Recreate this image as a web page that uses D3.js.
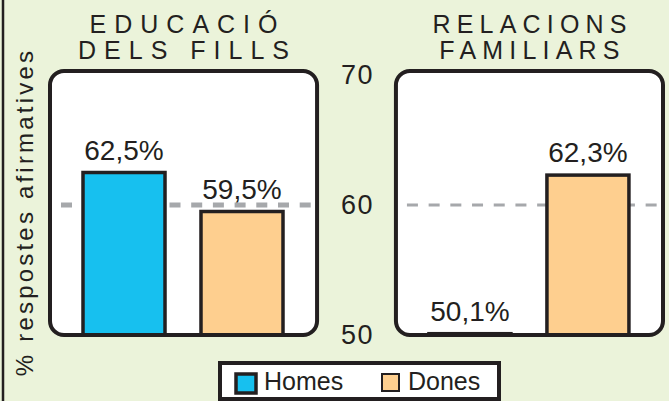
<!DOCTYPE html>
<html>
<head>
<meta charset="utf-8">
<script src="https://cdn.jsdelivr.net/npm/d3@7"></script>
<style>
  body { margin: 0; background: #ebf3da; }
  svg { display: block; font-family: "Liberation Sans", Arial, sans-serif; }
</style>
</head>
<body>
<svg id="chart" width="669" height="401"></svg>
<script>
// data
var panelNames = ["educacio", "relacions"];
var panelTitles = [["EDUCACIÓ", "DELS FILLS"], ["RELACIONS", "FAMILIARS"]];
var seriesNames = ["Homes", "Dones"];
var homesValues = [62.5, 50.1];
var donesValues = [59.5, 62.3];
var yTicks = [50, 60, 70];
var refLine = 60;

var colors = { Homes: "#17c0ef", Dones: "#fecf8f" };
var ink = "#231f20";

var svg = d3.select("#chart");

svg.append("rect").attr("width", 669).attr("height", 401).attr("fill", "#ebf3da");
// left border line
svg.append("line").attr("x1", 3).attr("x2", 3).attr("y1", 0).attr("y2", 401)
    .attr("stroke", ink).attr("stroke-width", 2.5);

var y = d3.scaleLinear().domain([50, 70]).range([335, 75]);
var panelX = d3.scaleBand().domain(panelNames).range([50, 663]).paddingInner(0.228);
var barX = d3.scaleBand().domain(seriesNames).range([33, 233]).paddingInner(0.305);

var panelTop = 71, panelBottom = y(50);

panelNames.forEach(function(p, i) {
    var g = svg.append("g").attr("transform", "translate(" + panelX(p) + ",0)");
    var w = panelX.bandwidth();

    // white panel
    g.append("rect")
        .attr("x", 0).attr("y", panelTop)
        .attr("width", w).attr("height", panelBottom - panelTop)
        .attr("rx", 14)
        .attr("fill", "white");

    // dashed reference line
    g.append("line")
        .attr("x1", 11).attr("x2", w - 6)
        .attr("y1", y(refLine)).attr("y2", y(refLine))
        .attr("stroke", "#a6a8ab")
        .attr("stroke-width", i === 0 ? 5 : 3)
        .attr("stroke-dasharray", "11,10.7");

    var vals = [homesValues[i], donesValues[i]];
    seriesNames.forEach(function(s, j) {
        g.append("rect")
            .attr("x", barX(s))
            .attr("y", y(vals[j]))
            .attr("width", barX.bandwidth())
            .attr("height", panelBottom - y(vals[j]))
            .attr("fill", colors[s])
            .attr("stroke", ink)
            .attr("stroke-width", 3.5);

        g.append("text")
            .attr("x", barX(s) + barX.bandwidth() / 2)
            .attr("y", y(vals[j]) - 13)
            .attr("text-anchor", "middle")
            .attr("font-size", 28)
            .attr("fill", ink)
            .text(d3.format(".1f")(vals[j]).replace(".", ",") + "%");
    });

    // panel border over the bars
    g.append("rect")
        .attr("x", 0).attr("y", panelTop)
        .attr("width", w).attr("height", panelBottom - panelTop)
        .attr("rx", 14)
        .attr("fill", "none")
        .attr("stroke", ink)
        .attr("stroke-width", 4);

    // title, letter spaced
    var spacing = i === 0 ? 8 : 6.2;
    panelTitles[i].forEach(function(line, k) {
        g.append("text")
            .attr("x", w / 2 + spacing / 2)
            .attr("y", 33 + k * 26)
            .attr("text-anchor", "middle")
            .attr("font-size", 25)
            .attr("letter-spacing", spacing)
            .attr("fill", ink)
            .text(line);
    });
});

// y axis labels between the panels
var yAxis = d3.axisLeft(y).tickValues(yTicks).tickSize(0).tickPadding(0);
var ax = svg.append("g").attr("transform", "translate(374,0)").call(yAxis);
ax.select(".domain").remove();
ax.selectAll("text")
    .attr("font-size", 27)
    .attr("font-family", "Liberation Sans, Arial, sans-serif")
    .attr("letter-spacing", 1.5)
    .attr("fill", ink);

// y axis title
svg.append("text")
    .attr("transform", "translate(33,212) rotate(-90)")
    .attr("text-anchor", "middle")
    .attr("font-size", 24)
    .attr("letter-spacing", 3.2)
    .attr("fill", ink)
    .text("% respostes afirmatives");

// legend
var lg = svg.append("g");
lg.append("rect")
    .attr("x", 220).attr("y", 363).attr("width", 279).attr("height", 36)
    .attr("fill", "white").attr("stroke", ink).attr("stroke-width", 4);

var legendX = d3.scaleOrdinal().domain(seriesNames).range([236, 382]);
seriesNames.forEach(function(s, j) {
    lg.append("rect")
        .attr("x", legendX(s)).attr("y", 374)
        .attr("width", j === 0 ? 20 : 17).attr("height", j === 0 ? 19 : 17)
        .attr("fill", colors[s])
        .attr("stroke", ink)
        .attr("stroke-width", j === 0 ? 3.5 : 2);
    lg.append("text")
        .attr("x", legendX(s) + (j === 0 ? 28 : 26))
        .attr("y", 390)
        .attr("font-size", 25)
        .attr("fill", ink)
        .text(s);
});
</script>
</body>
</html>
